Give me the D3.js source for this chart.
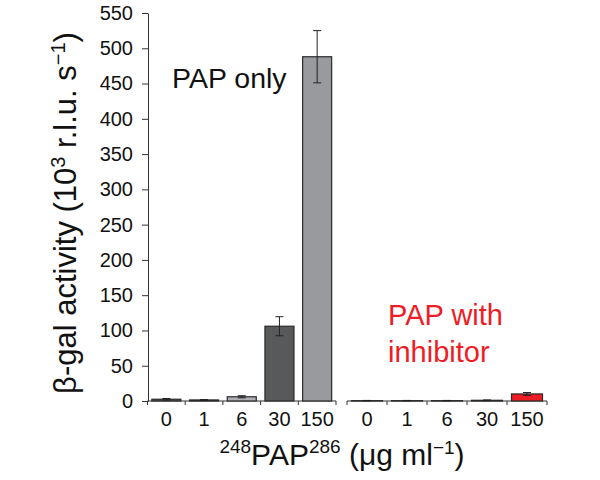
<!DOCTYPE html>
<html>
<head>
<meta charset="utf-8">
<script src="https://cdn.jsdelivr.net/npm/d3@7/dist/d3.min.js"></script>
<style>
  body { margin: 0; background: #fff; }
  svg { display: block; }
  text { font-family: "Liberation Sans", Arial, Helvetica, sans-serif; }
</style>
</head>
<body>
<svg id="chart" width="600" height="480"></svg>
<script>
// ---- data ----
const categories = ["0", "1", "6", "30", "150"];
const papOnly = [2.5, 1.5, 6, 106, 488];
const papOnlyErr = [1, 0.5, 1.5, 13.5, 37];
const papInhib = [0.5, 0.5, 0.5, 1, 10];
const papInhibErr = [0.3, 0.3, 0.3, 0.5, 2];
const yTicks = [0, 50, 100, 150, 200, 250, 300, 350, 400, 450, 500, 550];
const papOnlyColors = ["#58595b", "#3a3a3c", "#aeb0b3", "#58595b", "#999a9e"];
const inhibColor = "#ee1c24";

const svg = d3.select("#chart");
const y = d3.scaleLinear().domain([0, 550]).range([401, 13]);
const p = 0.23;
const xL = d3.scaleBand().domain(categories).range([147.5, 336]).paddingInner(p).paddingOuter(p / 2);
const xR = d3.scaleBand().domain(categories).range([347, 547]).paddingInner(0.225).paddingOuter(0.1125);

const axisColor = "#333";
const tickFont = 20;

// y axis
const yAxis = d3.axisLeft(y).tickValues(yTicks).tickSize(6).tickPadding(9).tickSizeOuter(0);
const gy = svg.append("g").attr("transform", "translate(148,0)").call(yAxis);
gy.selectAll("path, line").attr("stroke", axisColor);
gy.selectAll("text").attr("font-size", tickFont).attr("fill", "#111")
  .attr("font-family", "'Liberation Sans', Arial, sans-serif");

function drawGroup(x, vals, errs, colors) {
  const step = x.step();
  const off = step * x.paddingInner() / 2;
  const r0 = x.range()[0], r1 = x.range()[1];
  svg.append("line").attr("x1", r0).attr("x2", r1).attr("y1", y(0)).attr("y2", y(0))
    .attr("stroke", axisColor).attr("stroke-width", 1.2);
  const bounds = categories.map(c => x(c) - off).concat([x(categories[categories.length - 1]) + x.bandwidth() + off]);
  svg.selectAll(null).data(bounds).enter().append("line")
    .attr("x1", d => d).attr("x2", d => d).attr("y1", y(0)).attr("y2", y(0) + 4)
    .attr("stroke", axisColor).attr("stroke-width", 1);
  const ax = d3.axisBottom(x).tickSize(0).tickPadding(11);
  const g = svg.append("g").attr("transform", `translate(0,${y(0)})`).call(ax);
  g.select(".domain").remove();
  g.selectAll("text").attr("font-size", tickFont).attr("fill", "#111")
    .attr("font-family", "'Liberation Sans', Arial, sans-serif");
  svg.selectAll(null).data(categories).enter().append("rect")
    .attr("x", c => x(c))
    .attr("width", x.bandwidth())
    .attr("y", (c, i) => y(vals[i]))
    .attr("height", (c, i) => y(0) - y(vals[i]))
    .attr("fill", (c, i) => Array.isArray(colors) ? colors[i] : colors)
    .attr("stroke", "#2a2a2a").attr("stroke-width", 1.2);
  const eg = svg.append("g").attr("stroke", "#222").attr("stroke-width", 1);
  categories.forEach((c, i) => {
    const cx = x(c) + x.bandwidth() / 2;
    const top = y(vals[i] + errs[i]), bot = y(Math.max(0, vals[i] - errs[i]));
    eg.append("line").attr("x1", cx).attr("x2", cx).attr("y1", top).attr("y2", bot);
    eg.append("line").attr("x1", cx - 4).attr("x2", cx + 4).attr("y1", top).attr("y2", top);
    eg.append("line").attr("x1", cx - 4).attr("x2", cx + 4).attr("y1", bot).attr("y2", bot);
  });
}

drawGroup(xL, papOnly, papOnlyErr, papOnlyColors);
drawGroup(xR, papInhib, papInhibErr, inhibColor);

// annotations
svg.append("text").attr("x", 172).attr("y", 88).attr("font-size", 28.5).attr("fill", "#111").text("PAP only");
const red = svg.append("text").attr("x", 388).attr("y", 325).attr("font-size", 29).attr("fill", "#ee1c24");
red.append("tspan").attr("x", 388).text("PAP with");
red.append("tspan").attr("x", 388).attr("dy", 37).text("inhibitor");

// y title
const yt = svg.append("text")
  .attr("transform", "translate(76,213) rotate(-90)")
  .attr("text-anchor", "middle").attr("font-size", 31).attr("fill", "#111");
yt.append("tspan").text("β-gal activity (10");
yt.append("tspan").attr("font-size", 20).attr("dy", -11).text("3");
yt.append("tspan").attr("dy", 11).text(" r.l.u. s");
yt.append("tspan").attr("font-size", 20).attr("dy", -11).text("−1");
yt.append("tspan").attr("dy", 11).text(")");

// x title
const xt = svg.append("text").attr("x", 342).attr("y", 465)
  .attr("text-anchor", "middle").attr("font-size", 30).attr("fill", "#111");
xt.append("tspan").attr("font-size", 19).attr("dy", -12).text("248");
xt.append("tspan").attr("dy", 12).text("PAP");
xt.append("tspan").attr("font-size", 19).attr("dy", -12).text("286");
xt.append("tspan").attr("dy", 12).text(" (μg ml");
xt.append("tspan").attr("font-size", 19).attr("dy", -11).text("−1");
xt.append("tspan").attr("dy", 11).text(")");
</script>
</body>
</html>
